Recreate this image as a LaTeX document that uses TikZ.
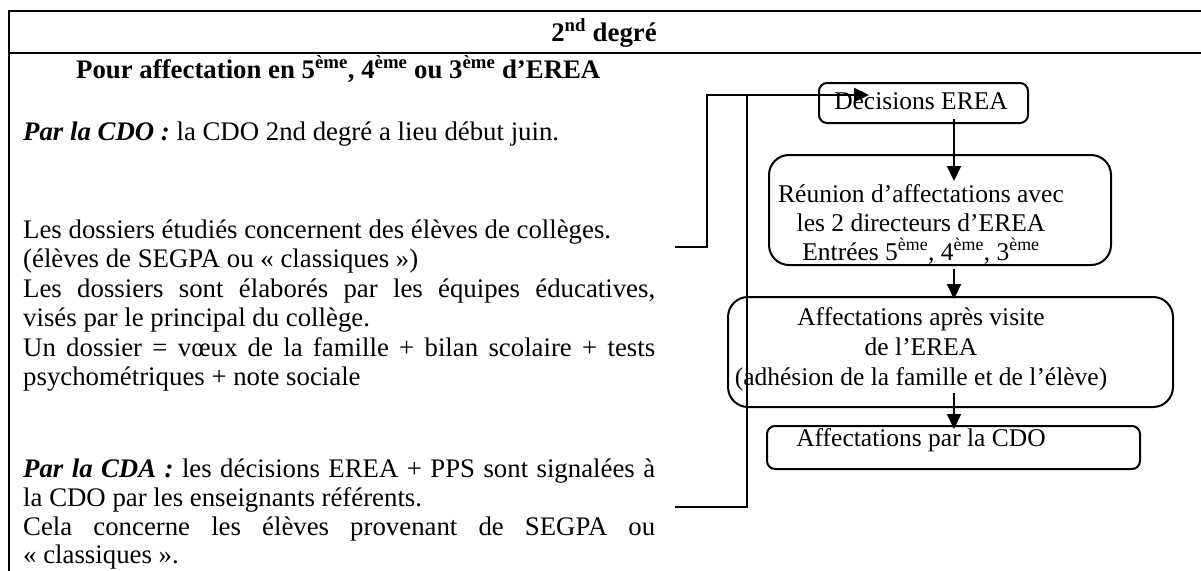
\documentclass[tikz,border=0pt]{standalone}
\usepackage{fontspec}
\setmainfont{Liberation Serif}
\usetikzlibrary{arrows.meta}
\newcommand{\eme}{\textsuperscript{ème}}
\newcommand{\bigtxt}{\fontsize{25.5}{29}\selectfont}
\newcommand{\bodytxt}{\fontsize{26.8}{29.5}\selectfont}
\newcommand{\jl}[1]{\makebox[632pt][s]{#1}}
\newcommand{\lead}[1]{\textbf{\textit{#1}}}
\tikzset{
  frm/.style  ={line width=2.8pt},
  ln/.style   ={line width=2pt},
  arr/.style  ={-{Triangle[length=15pt,width=14pt]}, line width=2pt},
  rbox/.style ={draw, line width=2pt, inner sep=0pt, rounded corners=#1},
  rbox/.default=8pt,
  lin/.style  ={font=\bodytxt, inner sep=0pt, anchor=base west},
  ctr/.style  ={font=\bigtxt, inner sep=0pt, anchor=base},
}
\begin{document}
\begin{tikzpicture}[x=1pt,y=-1pt]
\useasboundingbox (0,0) rectangle (1201,570);
% table frame
\draw[frm] (1201,11) -- (9,11) -- (9,572);
\draw[frm] (9,53) -- (1201,53);
\node[lin,font=\bodytxt\bfseries,anchor=base] (deg) at (604,41) {2\textsuperscript{nd} degré};
\node[lin,font=\bodytxt\bfseries] (pour) at (76,78) {Pour affectation en 5\eme, 4\eme{} ou 3\eme{} d’EREA};
% left column
\foreach \y/\t [count=\i] in {
    140/{\lead{Par la CDO :} la CDO 2nd degré a lieu début juin.},
    238/{Les dossiers étudiés concernent des élèves de collèges.},
    267.5/{(élèves de SEGPA ou «~classiques~»)},
    297/{\jl{Les dossiers sont élaborés par les équipes éducatives,}},
    326.5/{visés par le principal du collège.},
    356/{\jl{Un dossier = vœux de la famille + bilan scolaire + tests}},
    385.5/{psychométriques + note sociale},
    477/{\jl{\lead{Par la CDA :} les décisions EREA + PPS sont signalées à}},
    506/{la CDO par les enseignants référents.},
    535/{\jl{Cela concerne les élèves provenant de SEGPA ou}},
    563.5/{«~classiques~».}}
  \node[lin] (l\i) at (23,\y) {\t};
% flow boxes
\node[rbox, minimum width=209pt, minimum height=40pt] (dec) at (923.5,103) {};
\node[rbox=20pt, minimum width=342pt, minimum height=110pt] (reu) at (940,210) {};
\node[rbox=20pt, minimum width=445pt, minimum height=110pt] (apr) at (950.5,352) {};
\node[rbox, minimum width=373pt, minimum height=43pt] (cdo) at (953.5,447.5) {};
\node[ctr] (dect) at (921,109) {Décisions EREA};
\foreach \y/\t [count=\i] in {202/{Réunion d’affectations avec}, 231/{les 2 directeurs d’EREA},
                              260/{Entrées 5\eme, 4\eme, 3\eme}}
  \node[ctr] (reu\i) at (921,\y) {\t};
\foreach \y/\t [count=\i] in {325/{Affectations après visite}, 355/{de l’EREA},
                              385/{(adhésion de la famille et de l’élève)}}
  \node[ctr] (apr\i) at (921,\y) {\t};
\node[ctr] (cdot) at (921,446) {Affectations par la CDO};
% arrows
\coordinate (ax) at (954,0);
\draw[arr] ([yshift=5pt]dec.south -| ax) -- ([yshift=-27pt]reu.north -| ax);
\draw[arr] ([yshift=-3pt]reu.south -| ax) -- ([yshift=-3pt]apr.north -| ax);
\draw[arr] ([yshift=15pt]apr.south -| ax) -- ([yshift=-4pt]cdo.north -| ax);
\coordinate (in1) at (675,247);
\coordinate (in2) at (675,507);
\coordinate (jn1) at (707,95);
\coordinate (jn2) at (747,95);
\draw[arr] (in1) -| (jn1) -- ([xshift=51pt]dec.west |- jn1);
\draw[ln] (in2) -| (jn2);
\end{tikzpicture}
\end{document}
